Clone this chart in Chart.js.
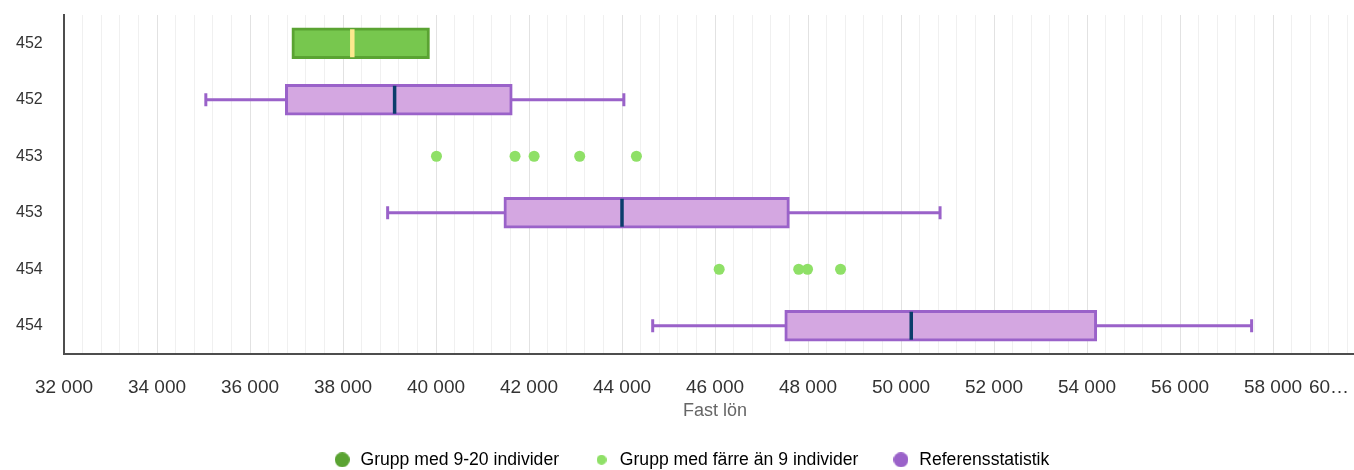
<!DOCTYPE html>
<html lang="sv">
<head>
<meta charset="utf-8">
<title>Fast lön</title>
<script src="https://cdn.jsdelivr.net/npm/chart.js@4.4.1/dist/chart.umd.min.js"></script>
<style>
  html, body { margin: 0; padding: 0; background: #fff; overflow: hidden; }
  #wrap { width: 1354px; height: 470px; overflow: hidden; }
  #box { position: relative; width: 1393px; height: 470px; }
</style>
</head>
<body>
<div id="wrap"><div id="box"><canvas id="salaryChart"></canvas></div></div>
<script>
'use strict';
/* ------------------------------------------------------------ DATA */
const categories = ['452', '452', '453', '453', '454', '454'];
//row labels, top to bottom

const groupRows = [0];
const groupQ1 = [36900];
const groupMedian = [38200];
const groupQ3 = [39860];
//Grupp med 9-20 individer (box only)

const fewRows = [2, 2, 2, 2, 2, 4, 4, 4, 4];
const fewValues = [40010, 41700, 42110, 43090, 44310, 46090, 47800, 47990, 48700];
//Grupp med färre än 9 individer (single points)

const refRows = [1, 3, 5];
const refMin = [35050, 38960, 44660];
const refQ1 = [36760, 41460, 47500];
const refMedian = [39110, 44000, 50220];
const refQ3 = [41640, 47600, 54210];
const refMax = [44040, 50840, 57540];
//Referensstatistik (box with whiskers)

const xMin = 32000;
const xMax = 60000;
const xLabelStep = 2000;
const xGridStep = 400;
const lastTickLabel = '60…';
const xTitle = 'Fast lön';
const legendNames = ['Grupp med 9-20 individer', 'Grupp med färre än 9 individer', 'Referensstatistik'];

/* ------------------------------------------------------------ STYLE */
const purpleLine = '#9a62c9';
const purpleFill = '#d4a7e1';
const greenLine = '#5aa332';
const greenFill = '#77c74e';
const lightGreen = '#8fe067';
const medianNavy = '#0b3d6b';
const medianYellow = '#fce98e';

Chart.defaults.font.family = "'Liberation Sans', Arial, sans-serif";
Chart.defaults.color = '#333';

/* ------------------------------------------------------------ HELPERS */
function formatThousands(v){
  return String(v).replace(/\B(?=(\d{3})+(?!\d))/g, ' ');
}

function fullRow(rows, build){
  const out = categories.map(() => null);
  rows.forEach((r, i) => { out[r] = build(i); });
  return out;
}
//spreads values out over the category rows, null where the row has no box

function legendDot(color, size){
  const c = document.createElement('canvas');
  c.width = size;
  c.height = size;
  const g = c.getContext('2d');
  g.fillStyle = color;
  g.beginPath();
  g.arc(size / 2, size / 2, size / 2, 0, Math.PI * 2);
  g.fill();
  return c;
}

const whiskerPoints = [];
refRows.forEach((r, i) => {
  whiskerPoints.push({x: refMin[i], y: r});
  whiskerPoints.push({x: refMax[i], y: r});
  whiskerPoints.push({x: null, y: r});
});
//min to max per row, broken by a null point; the box covers the middle

const legendIcons = [legendDot(greenLine, 15), legendDot(lightGreen, 10), legendDot(purpleLine, 15)];
const legendColors = [greenLine, lightGreen, purpleLine];

/* ------------------------------------------------------------ CHART */
const ctx = document.getElementById('salaryChart').getContext('2d');

new Chart(ctx, {
  type: 'bar',
  data: {
    labels: categories,
    datasets: [{
      type: 'bar',
      label: legendNames[0],
      data: fullRow(groupRows, i => [groupQ1[i], groupQ3[i]]),
      backgroundColor: greenFill,
      borderColor: greenLine,
      borderWidth: 3,
      borderSkipped: false,
      barThickness: 31,
      grouped: false,
      xAxisID: 'x',
      yAxisID: 'y',
      order: 2
    }, {
      type: 'scatter',
      label: legendNames[1],
      data: fewValues.map((v, i) => ({x: v, y: fewRows[i]})),
      pointRadius: 5.5,
      pointBackgroundColor: lightGreen,
      pointBorderWidth: 0,
      xAxisID: 'x',
      yAxisID: 'yIdx',
      order: 1
    }, {
      type: 'bar',
      label: legendNames[2],
      data: fullRow(refRows, i => [refQ1[i], refQ3[i]]),
      backgroundColor: purpleFill,
      borderColor: purpleLine,
      borderWidth: 3,
      borderSkipped: false,
      barThickness: 31,
      grouped: false,
      xAxisID: 'x',
      yAxisID: 'y',
      order: 3
    }, {
      type: 'scatter',
      label: 'whiskers',
      data: whiskerPoints,
      showLine: true,
      spanGaps: false,
      borderColor: purpleLine,
      borderWidth: 3,
      pointStyle: 'line',
      pointRotation: 90,
      pointRadius: 6.5,
      pointBorderColor: purpleLine,
      pointBorderWidth: 3,
      xAxisID: 'x',
      yAxisID: 'yIdx',
      order: 4
    }, {
      type: 'scatter',
      label: 'ref median',
      data: refMedian.map((v, i) => ({x: v, y: refRows[i]})),
      pointStyle: 'line',
      pointRotation: 90,
      pointRadius: 14,
      pointBorderColor: medianNavy,
      pointBorderWidth: 3.5,
      xAxisID: 'x',
      yAxisID: 'yIdx',
      order: 0
    }, {
      type: 'scatter',
      label: 'group median',
      data: groupMedian.map((v, i) => ({x: v, y: groupRows[i]})),
      pointStyle: 'line',
      pointRotation: 90,
      pointRadius: 14,
      pointBorderColor: medianYellow,
      pointBorderWidth: 4.5,
      xAxisID: 'x',
      yAxisID: 'yIdx',
      order: 0
    }]
  },
  options: {
    indexAxis: 'y',
    responsive: true,
    maintainAspectRatio: false,
    animation: false,
    events: [],
    layout: {autoPadding: false, padding: {top: 15, right: 27, bottom: 0, left: 16}},
    scales: {
      x: {
        type: 'linear',
        position: 'bottom',
        min: xMin,
        max: xMax,
        beginAtZero: false,
        offset: false,
        grid: {
          offset: false,
          drawTicks: false,
          lineWidth: 1,
          color: c => (c.tick && c.tick.value % xLabelStep === 0) ? '#e2e2e2' : '#f0f0f0'
        },
        border: {display: true, color: '#4d4d4d', width: 2},
        ticks: {
          stepSize: xGridStep,
          maxTicksLimit: 200,
          autoSkip: false,
          maxRotation: 0,
          minRotation: 0,
          padding: 22,
          color: '#333',
          font: {size: 19},
          callback: v => {
            if (v % xLabelStep !== 0) return '';
            if (v === xMax) return lastTickLabel + ' '.repeat(14);
            return formatThousands(v);
          }
        },
        title: {
          display: true,
          text: xTitle,
          color: '#666',
          font: {size: 18},
          padding: {top: 0, bottom: -4}
        },
        afterFit: scale => {
          scale.height = 64;
          scale.paddingRight = 0;
        }
      },
      y: {
        type: 'category',
        position: 'left',
        offset: true,
        grid: {display: false, drawTicks: false},
        border: {display: true, color: '#4d4d4d', width: 2},
        ticks: {padding: 21, crossAlign: 'far', color: '#333', font: {size: 16}},
        afterFit: scale => {
          scale.width = 48;
          scale.paddingTop = 0;
          scale.paddingBottom = 0;
        }
      },
      yIdx: {
        type: 'linear',
        axis: 'y',
        display: false,
        offset: false,
        reverse: true,
        min: -0.5,
        max: categories.length - 0.5
      }
    },
    plugins: {
      tooltip: {enabled: false},
      legend: {
        position: 'bottom',
        maxHeight: 52,
        labels: {
          usePointStyle: true,
          pointStyleWidth: 19,
          padding: 33,
          color: '#333',
          font: {size: 17.6},
          generateLabels: () => legendNames.map((name, i) => ({
            text: name,
            pointStyle: legendIcons[i],
            fillStyle: legendColors[i],
            strokeStyle: legendColors[i],
            lineWidth: 0,
            hidden: false,
            datasetIndex: i
          }))
        }
      }
    }
  }
});
</script>
</body>
</html>
